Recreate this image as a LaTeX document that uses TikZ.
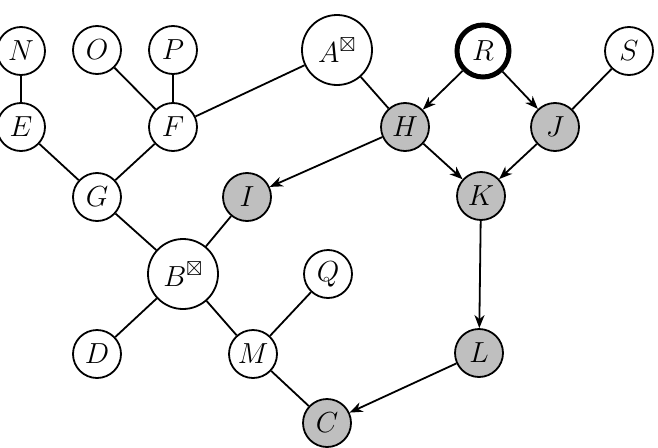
\documentclass[tikz,border=0pt]{standalone}
\usepackage{fix-cm}
\usepackage{amssymb}
\usetikzlibrary{arrows.meta}
\tikzset{
  vnode/.style={circle,draw,line width=1.8pt,minimum size=48pt,inner sep=0pt,fill=white,font=\fontsize{29}{34}\selectfont},
  obs/.style={fill=black!25},
  big/.style={minimum size=70pt},
  root/.style={line width=5pt,minimum size=52pt},
  edge/.style={line width=1.8pt},
  arr/.style={line width=1.8pt,-{Stealth[length=13pt,width=10pt,inset=4pt]}}
}
\begin{document}
\begin{tikzpicture}[x=1pt,y=-1pt]
\useasboundingbox (0,0) rectangle (658,447);
\node[vnode] (N) at (21,51) {$N$};
\node[vnode] (O) at (97,50) {$O$};
\node[vnode] (P) at (173,50) {$P$};
\node[vnode,big] (A) at (337,50) {$A^{\boxtimes}$};
\node[vnode,root] (R) at (483,51) {$R$};
\node[vnode] (S) at (629,51) {$S$};
\node[vnode] (E) at (21,127) {$E$};
\node[vnode] (F) at (173,127) {$F$};
\node[vnode,obs] (H) at (405,127) {$H$};
\node[vnode,obs] (J) at (555,127) {$J$};
\node[vnode] (G) at (97,197) {$G$};
\node[vnode,obs] (I) at (247,197) {$I$};
\node[vnode,obs] (K) at (481,196) {$K$};
\node[vnode,big] (B) at (183,274) {$B^{\boxtimes}$};
\node[vnode] (Q) at (328,274) {$Q$};
\node[vnode] (D) at (97,354) {$D$};
\node[vnode] (M) at (253,354) {$M$};
\node[vnode,obs] (L) at (479,353) {$L$};
\node[vnode,obs] (C) at (327,423) {$C$};
\draw[edge] (N) -- (E);
\draw[edge] (O) -- (F);
\draw[edge] (P) -- (F);
\draw[edge] (A) -- (F);
\draw[edge] (E) -- (G);
\draw[edge] (F) -- (G);
\draw[edge] (G) -- (B);
\draw[edge] (I) -- (B);
\draw[edge] (B) -- (D);
\draw[edge] (B) -- (M);
\draw[edge] (Q) -- (M);
\draw[edge] (M) -- (C);
\draw[edge] (A) -- (H);
\draw[edge] (S) -- (J);
\draw[arr] (R) -- (H);
\draw[arr] (R) -- (J);
\draw[arr] (H) -- (K);
\draw[arr] (J) -- (K);
\draw[arr] (H) -- (I);
\draw[arr] (K) -- (L);
\draw[arr] (L) -- (C);
\end{tikzpicture}
\end{document}
